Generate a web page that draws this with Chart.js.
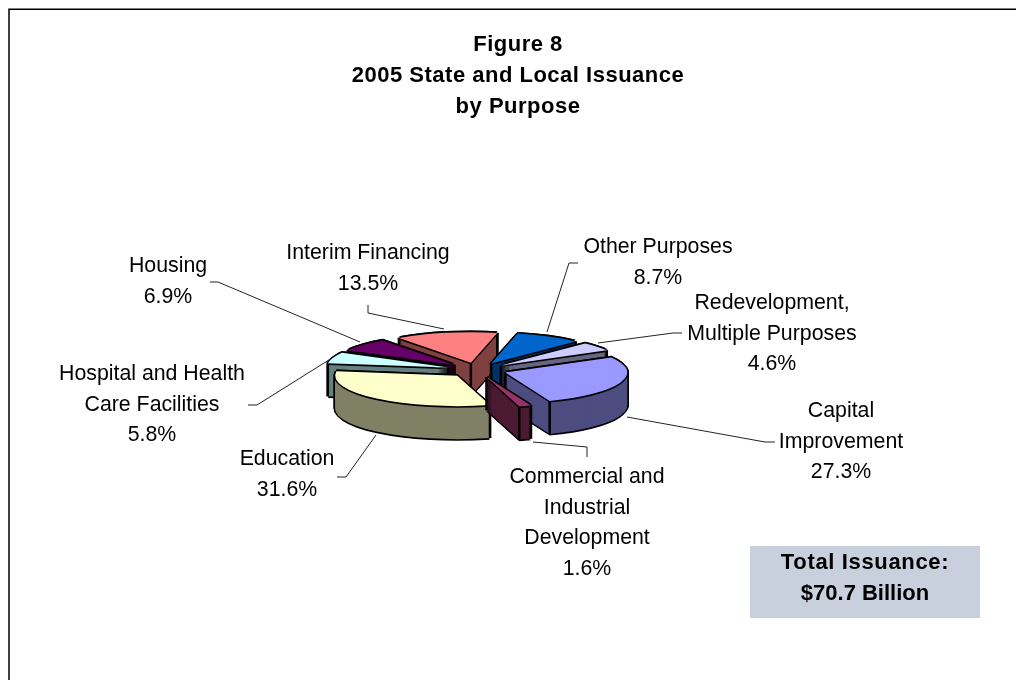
<!DOCTYPE html>
<html><head><meta charset="utf-8">
<style>html,body{margin:0;padding:0;background:#fff;overflow:hidden}canvas{display:block}</style>
<script src="https://cdn.jsdelivr.net/npm/chart.js@4"></script></head>
<body><canvas id="c" width="1016" height="680"></canvas>
<script>
const categories = ["Other Purposes","Redevelopment, Multiple Purposes","Capital Improvement","Commercial and Industrial Development","Education","Hospital and Health Care Facilities","Housing","Interim Financing"];
const values = [8.7,4.6,27.3,1.6,31.6,5.8,6.9,13.5];
const topColors = ["#0066CC","#CCCCFF","#9999FF","#993366","#FFFFCC","#CCFFFF","#660066","#FF8080"];
const sideColors = ["#003366","#666680","#4D4D80","#4D1A33","#808066","#668080","#330033","#804040"];
const titleLines = ["Figure 8","2005 State and Local Issuance","by Purpose"];
const sliceLabels = [
 {lines:["Other Purposes","8.7%"],x:658,y:247},
 {lines:["Redevelopment,","Multiple Purposes","4.6%"],x:772,y:303},
 {lines:["Capital","Improvement","27.3%"],x:841,y:411},
 {lines:["Commercial and","Industrial","Development","1.6%"],x:587,y:477},
 {lines:["Education","31.6%"],x:287,y:459},
 {lines:["Hospital and Health","Care Facilities","5.8%"],x:152,y:374},
 {lines:["Housing","6.9%"],x:168,y:266},
 {lines:["Interim Financing","13.5%"],x:368,y:253}
];
const leaders = [
 [[547,332],[569,263],[578,263]],
 [[598,343],[673,333],[682,333]],
 [[627,417],[765,442],[775,442]],
 [[533,442],[587,447],[587,457]],
 [[376,435],[346,477],[337,477]],
 [[332,358],[257,405],[248,405]],
 [[360,342],[218,282],[210,282]],
 [[444,329],[368,313],[368,305]]
];
const totalLines = ["Total Issuance:","$70.7 Billion"];
const totalSpacing = ["0.65px","0px"];
const FONT = '"Liberation Sans", Arial, sans-serif';
const CX=477, CY=370, SQUASH=0.25, DEPTH=33, EXPLODE=30, OUTLINE=1.7;

function paintArc(ctx, arc, color){
  const saved = arc.options;
  arc.options = {backgroundColor:color,borderColor:color,borderWidth:0,borderAlign:'center',offset:0,spacing:0,circular:true,borderRadius:0};
  arc.draw(ctx);
  arc.options = saved;
}
function place(ctx, arc, dx, dy){
  const mid=(arc.startAngle+arc.endAngle)/2;
  ctx.setTransform(1,0,0,1,0,0);
  ctx.translate(CX+dx, CY+dy);
  ctx.scale(1,SQUASH);
  ctx.translate(Math.cos(mid)*EXPLODE, Math.sin(mid)*EXPLODE);
  ctx.translate(-arc.x,-arc.y);
}
function wedgeHas(arc, px, py){
  const r=Math.hypot(px,py);
  if(r>arc.outerRadius) return false;
  let a=Math.atan2(py,px);
  while(a<arc.startAngle) a+=Math.PI*2;
  while(a>arc.startAngle+Math.PI*2) a-=Math.PI*2;
  return a<=arc.endAngle;
}
const pie3d = {
  id:'pie3d',
  beforeDraw(chart){
    const ctx=chart.ctx;
    ctx.save();
    ctx.strokeStyle='#000';ctx.lineWidth=1.5;
    ctx.strokeRect(9,9.25,1100,1000);
    ctx.restore();
    ctx.letterSpacing='0.5px';
  },
  beforeDatasetDraw(chart){
    const ctx=chart.ctx, arcs=chart.getDatasetMeta(0).data;
    ctx.letterSpacing='0px';
    const order=arcs.map((a,i)=>i).sort((p,q)=>{
      const m=a=>Math.sin((a.startAngle+a.endAngle)/2);
      return m(arcs[p])-m(arcs[q]);
    });
    ctx.save();
    for(const i of order){
      const arc=arcs[i];
      for(let d=DEPTH;d>=0;d-=1){
        for(const [ox,oy] of [[-OUTLINE,0],[OUTLINE,0],[0,-OUTLINE],[0,OUTLINE]]){
          place(ctx,arc,ox,d+oy); paintArc(ctx,arc,'#000');
        }
      }
      for(let d=DEPTH;d>0;d-=1){ place(ctx,arc,0,d); paintArc(ctx,arc,sideColors[i]); }
      const mid=(arc.startAngle+arc.endAngle)/2;
      const ex=Math.cos(mid)*EXPLODE, ey=Math.sin(mid)*EXPLODE*SQUASH;
      const verts=[[0,0],[Math.cos(arc.startAngle)*arc.outerRadius,Math.sin(arc.startAngle)*arc.outerRadius],[Math.cos(arc.endAngle)*arc.outerRadius,Math.sin(arc.endAngle)*arc.outerRadius]];
      ctx.setTransform(1,0,0,1,0,0);
      ctx.strokeStyle='#000';ctx.lineWidth=2.5;
      for(const [vx,vy] of verts){
        if(wedgeHas(arc,vx,vy+3)) continue;
        const sx=CX+ex+vx, sy=CY+ey+vy*SQUASH;
        ctx.beginPath();ctx.moveTo(sx,sy);ctx.lineTo(sx,sy+DEPTH);ctx.stroke();
      }
      for(const [ox,oy] of [[-OUTLINE,0],[OUTLINE,0],[0,-OUTLINE],[0,OUTLINE]]){
        place(ctx,arc,ox,oy); paintArc(ctx,arc,'#000');
      }
      place(ctx,arc,0,0); paintArc(ctx,arc,topColors[i]);
    }
    ctx.restore();
    return false;
  },
  afterDraw(chart){
    const ctx=chart.ctx;
    ctx.save();
    ctx.setTransform(1,0,0,1,0,0);
    ctx.strokeStyle='#222';ctx.lineWidth=1;
    for(const pts of leaders){
      ctx.beginPath();
      pts.forEach((p,i)=>i?ctx.lineTo(p[0],p[1]):ctx.moveTo(p[0],p[1]));
      ctx.stroke();
    }
    ctx.fillStyle='#000';ctx.textAlign='center';ctx.textBaseline='middle';
    ctx.letterSpacing='0px';
    ctx.font='21.3px '+FONT;
    for(const l of sliceLabels){
      l.lines.forEach((t,k)=>ctx.fillText(t,l.x,l.y+k*30.7));
    }
    ctx.fillStyle='#C8D0DE';ctx.fillRect(750,546,230,72);
    ctx.fillStyle='#000';ctx.font='bold 22px '+FONT;
    totalLines.forEach((t,k)=>{ctx.letterSpacing=totalSpacing[k];ctx.fillText(t,865,563+k*31);});
    ctx.restore();
  }
};
new Chart(document.getElementById('c').getContext('2d'),{
  type:'pie',
  data:{labels:categories,datasets:[{data:values,backgroundColor:topColors,borderWidth:0,radius:122,rotation:12.5}]},
  options:{
    responsive:false,animation:false,
    layout:{padding:{left:20}},
    plugins:{
      legend:{display:false},tooltip:{enabled:false},
      title:{display:true,text:titleLines,color:'#000',font:{family:FONT,size:22,weight:'bold',lineHeight:1.42},padding:{top:29,bottom:0}}
    }
  },
  plugins:[pie3d]
});
</script></body></html>
